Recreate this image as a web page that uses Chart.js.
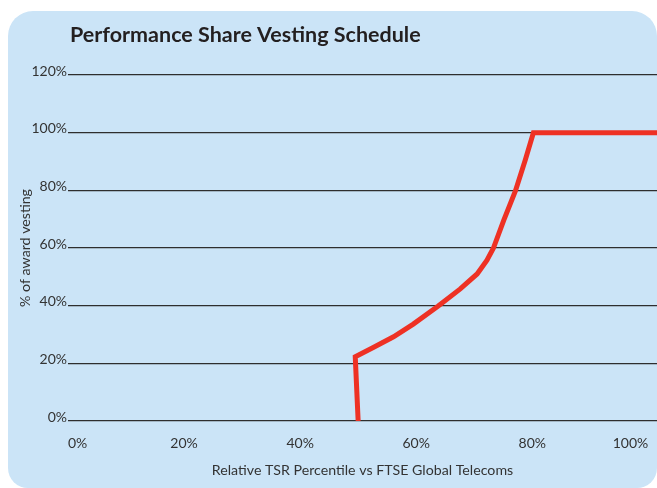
<!DOCTYPE html>
<html>
<head>
<meta charset="utf-8">
<script src="https://cdn.jsdelivr.net/npm/chart.js@4.4.0/dist/chart.umd.min.js"></script>
<style>
  html, body { margin: 0; padding: 0; background: #fff; }
  #graph { display: block; }
</style>
</head>
<body>
<canvas id="graph" width="657" height="488"></canvas>
<script>
// valeurs
const percentile = [50, 49.5, 52.6, 56.1, 59.5, 63.8, 67.6, 70.5, 72.2, 73.3, 75.1, 77.1, 78.8, 80.2, 101.5];
const vesting = [0, 22.3, 25.5, 29.2, 33.6, 39.9, 45.8, 51.0, 55.8, 59.9, 69.7, 79.8, 90.5, 100, 100];
const xTicks = [0, 20, 40, 60, 80, 100];
const yTicks = [0, 20, 40, 60, 80, 100, 120];

const TITRE = 'Performance Share Vesting Schedule';
const FONT = 'Lato, "Open Sans", sans-serif';

/**
 * fond bleu arrondi + titre
 */
const panneau = {
  id: 'panneau',
  beforeDraw(chart) {
    const ctx = chart.ctx;
    ctx.save();
    ctx.fillStyle = '#cbe4f7';
    ctx.beginPath();
    ctx.roundRect(8, 11, 649, 477, [25, 25, 20, 20]);
    ctx.fill();
    ctx.restore();
    // premier label cale a gauche, dernier a droite
    const items = chart.scales.x.getLabelItems(chart.chartArea);
    if (items.length) {
      items[0].options.textAlign = 'left';
      items[items.length - 1].options.textAlign = 'right';
    }
  },
  afterDraw(chart) {
    const ctx = chart.ctx;
    ctx.save();
    ctx.fillStyle = '#231f20';
    ctx.font = 'bold 21.5px ' + FONT;
    ctx.textBaseline = 'middle';
    ctx.fillText(TITRE, 70, 35);
    ctx.restore();
  }
};

function dessine() {
  const data = {
    datasets: [{
      data: percentile.map((x, i) => ({ x: x, y: vesting[i] })),
      borderColor: '#ee3124',
      borderWidth: 5,
      pointRadius: 0,
      tension: 0,
      fill: false,
    }]
  };

  const options = {
    responsive: false,
    animation: false,
    layout: { padding: { left: 17, right: 0, top: 75, bottom: 0 } },
    scales: {
      x: {
        type: 'linear',
        min: 0, max: 101.5,
        afterBuildTicks: (s) => { s.ticks = xTicks.map(v => ({ value: v })); },
        afterFit: (s) => { s.height = 67; s.paddingLeft = 0; s.paddingRight = 0; },
        border: { display: false },
        grid: { display: false, drawTicks: false },
        ticks: { padding: 14, color: '#333', font: { family: FONT, size: 14 }, callback: (v) => v + '%' },
        title: { display: true, text: 'Relative TSR Percentile vs FTSE Global Telecoms', color: '#333', font: { family: FONT, size: 14.2 }, padding: { top: 0, bottom: 9 } }
      },
      y: {
        min: 0, max: 120,
        afterBuildTicks: (s) => { s.ticks = yTicks.map(v => ({ value: v })); },
        afterFit: (s) => { s.width = 51; s.paddingTop = 0; s.paddingBottom = 0; },
        border: { display: false },
        grid: { color: '#2e2e2e', lineWidth: 1.2, drawTicks: false },
        ticks: { padding: 1, labelOffset: -4, color: '#333', font: { family: FONT, size: 14 }, callback: (v) => v + '%' },
        title: { display: true, text: '% of award vesting', color: '#333', font: { family: FONT, size: 14.2 }, padding: { top: 0, bottom: 0 } }
      }
    },
    plugins: {
      legend: { display: false },
      title: { display: false },
      tooltip: { enabled: false }
    }
  };

  new Chart(document.getElementById('graph').getContext('2d'), { type: 'line', data: data, options: options, plugins: [panneau] });
}

dessine();
</script>
</body>
</html>
